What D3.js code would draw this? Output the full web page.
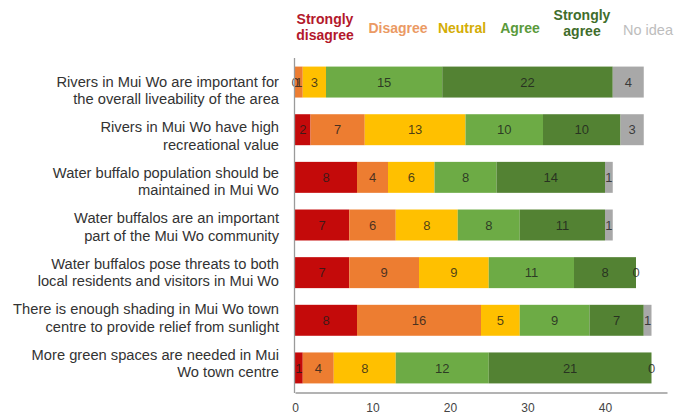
<!DOCTYPE html>
<html>
<head>
<meta charset="utf-8">
<script src="https://cdn.jsdelivr.net/npm/d3@7"></script>
<style>
  html, body { margin: 0; padding: 0; background: #fff; }
  svg { display: block; font-family: "Liberation Sans", Arial, sans-serif; }
</style>
</head>
<body>
<svg id="chart" width="677" height="412"></svg>
<script>
// Survey statements (two display lines each)
const statements = [
  ["Rivers in Mui Wo are important for", "the overall liveability of the area"],
  ["Rivers in Mui Wo have high", "recreational value"],
  ["Water buffalo population should be", "maintained in Mui Wo"],
  ["Water buffalos are an important", "part of the Mui Wo community"],
  ["Water buffalos pose threats to both", "local residents and visitors in Mui Wo"],
  ["There is enough shading in Mui Wo town", "centre to provide relief from sunlight"],
  ["More green spaces are needed in Mui", "Wo town centre"]
];

// Response categories
const responses = ["Strongly disagree", "Disagree", "Neutral", "Agree", "Strongly agree", "No idea"];
const legendLines = [["Strongly", "disagree"], ["Disagree"], ["Neutral"], ["Agree"], ["Strongly", "agree"], ["No idea"]];

// Counts per response, one entry per statement
const stronglyDisagree = [0, 2, 8, 7, 7, 8, 1];
const disagree         = [1, 7, 4, 6, 9, 16, 4];
const neutral          = [3, 13, 6, 8, 9, 5, 8];
const agree            = [15, 10, 8, 8, 11, 9, 12];
const stronglyAgree    = [22, 10, 14, 11, 8, 7, 21];
const noIdea           = [4, 3, 1, 1, 0, 1, 0];

const xTicks = [0, 10, 20, 30, 40];

const barColors  = ["#c40a0a", "#ed7d31", "#ffc000", "#6dab45", "#538233", "#a8a8a8"];
const textColors = ["#b3182b", "#eb9a64", "#d4ad06", "#5a9a3b", "#3f6d2b", "#bdbdbd"];

const series = [stronglyDisagree, disagree, neutral, agree, stronglyAgree, noIdea];

const svg = d3.select("#chart");

const x = d3.scaleLinear().domain([0, 48]).range([295, 667]);
const y = d3.scaleBand().domain(d3.range(statements.length)).range([58, 392])
  .paddingInner(0.35).paddingOuter(0.18);
const yLabel = d3.scalePoint().domain(d3.range(statements.length)).range([90.5, 363.5]);

// Stack the counts for each statement
const rows = statements.map((s, i) => {
  const obj = { idx: i };
  responses.forEach((r, k) => { obj[r] = series[k][i]; });
  return obj;
});
const stacked = d3.stack().keys(responses)(rows);

// Bars
const layers = svg.append("g").selectAll("g")
  .data(stacked)
  .join("g")
  .attr("fill", (d, k) => barColors[k]);

layers.selectAll("rect")
  .data(d => d)
  .join("rect")
  .attr("x", d => x(d[0]))
  .attr("y", d => y(d.data.idx))
  .attr("width", d => x(d[1]) - x(d[0]))
  .attr("height", y.bandwidth());

// Value labels, centred in each segment
const labels = svg.append("g")
  .attr("font-size", 13)
  .attr("text-anchor", "middle")
  .attr("fill", "#1c1c1c")
  .attr("fill-opacity", 0.8);
stacked.forEach(layer => {
  labels.selectAll(null)
    .data(layer)
    .join("text")
    .attr("x", d => (x(d[0]) + x(d[1])) / 2)
    .attr("y", d => y(d.data.idx) + y.bandwidth() / 2)
    .attr("dy", "0.36em")
    .text(d => d[1] - d[0]);
});

// Axes
const xAxis = svg.append("g")
  .attr("transform", `translate(0,392.5)`)
  .call(d3.axisBottom(x).tickValues(xTicks).tickSize(0).tickPadding(11));
xAxis.select(".domain").attr("stroke", "#9a9a9a").attr("stroke-width", 1.3);
xAxis.selectAll("text").attr("font-size", 12).attr("fill", "#444")
  .attr("font-family", "Liberation Sans, Arial, sans-serif");

svg.append("line")
  .attr("x1", x(0) - 0.5).attr("x2", x(0) - 0.5)
  .attr("y1", 58).attr("y2", 393)
  .attr("stroke", "#9a9a9a").attr("stroke-width", 1.3);

// Statement labels
const cat = svg.append("g")
  .attr("font-size", 14.7)
  .attr("fill", "#333")
  .attr("text-anchor", "end");
cat.selectAll("text")
  .data(statements)
  .join("text")
  .attr("transform", (d, i) => `translate(279,${yLabel(i)})`)
  .each(function(lines) {
    const t = d3.select(this);
    lines.forEach((ln, j) => {
      t.append("tspan")
        .attr("x", 0)
        .attr("y", (j - (lines.length - 1) / 2) * 17.5)
        .attr("dy", "0.35em")
        .text(ln);
    });
  });

// Legend
const legendX = [325, 398, 462, 520, 582, 648];
const legendY = [27.5, 28, 28, 28, 23.5, 30];
const legendWeight = ["bold", "bold", "bold", "bold", "bold", "normal"];
const legendSize = [14, 14, 14, 14, 14, 14.5];
const legend = svg.append("g")
  .attr("text-anchor", "middle");
legend.selectAll("text")
  .data(legendLines)
  .join("text")
  .attr("transform", (d, i) => `translate(${legendX[i]},${legendY[i]})`)
  .attr("fill", (d, i) => textColors[i])
  .attr("font-weight", (d, i) => legendWeight[i])
  .attr("font-size", (d, i) => legendSize[i])
  .each(function(lines) {
    const t = d3.select(this);
    lines.forEach((ln, j) => {
      t.append("tspan")
        .attr("x", 0)
        .attr("y", (j - (lines.length - 1) / 2) * 16)
        .attr("dy", "0.35em")
        .text(ln);
    });
  });
</script>
</body>
</html>
